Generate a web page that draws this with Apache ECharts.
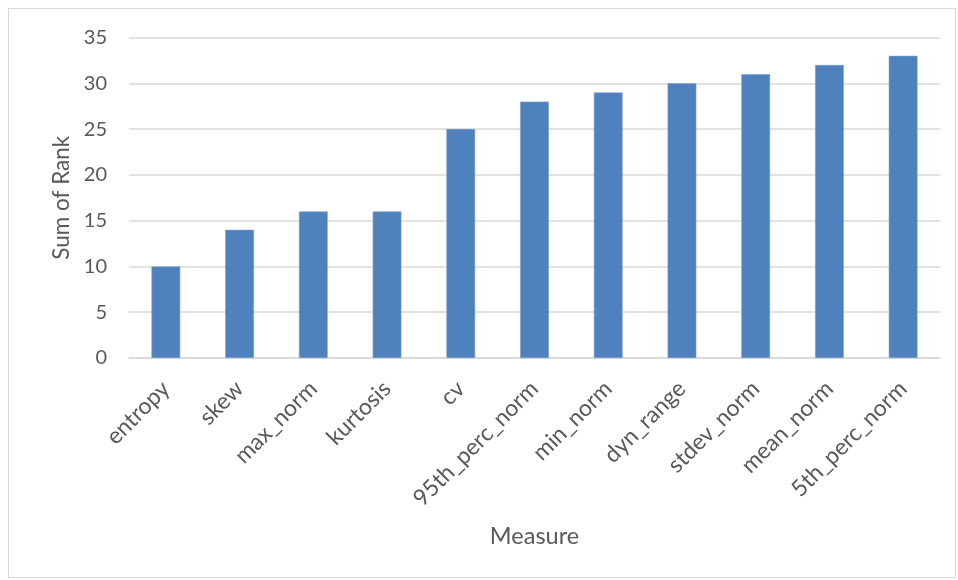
<!DOCTYPE html>
<html>
<head>
<meta charset="utf-8">
<script src="https://cdn.jsdelivr.net/npm/echarts@6/dist/echarts.min.js"></script>
<style>
  html, body { margin: 0; padding: 0; background: #fff; }
  #frame { position: absolute; left: 8px; top: 8px; width: 948px; height: 570px; border: 1px solid #d9d9d9; box-sizing: border-box; }
  #chart { position: absolute; left: 0; top: 0; width: 958px; height: 580px; }
</style>
</head>
<body>
<div id="frame"></div>
<div id="chart"></div>
<script>
// Measures and their summed ranks
const measures = ['entropy', 'skew', 'max_norm', 'kurtosis', 'cv', '95th_perc_norm',
  'min_norm', 'dyn_range', 'stdev_norm', 'mean_norm', '5th_perc_norm'];
const sumOfRank = [10, 14, 16, 16, 25, 28, 29, 30, 31, 32, 33];
const yTicks = { min: 0, max: 35, interval: 5 };

const textColor = '#595959';
const font = 'Lato, "Liberation Sans", sans-serif';

const chart = echarts.init(document.getElementById('chart'), null, { renderer: 'canvas' });
chart.setOption({
  animation: false,
  textStyle: { fontFamily: font },
  grid: { left: 129, right: 18, top: 37.5, bottom: 222 },
  xAxis: {
    type: 'category',
    data: measures,
    name: 'Measure',
    nameLocation: 'middle',
    nameGap: 166,
    nameTextStyle: { color: textColor, fontSize: 23.5, fontFamily: font },
    axisLine: { show: true, lineStyle: { color: '#d9d9d9', width: 1.5 } },
    axisTick: { show: false },
    axisLabel: { rotate: 45, color: textColor, fontSize: 23, fontFamily: font, margin: 27, interval: 0 }
  },
  yAxis: {
    type: 'value',
    min: yTicks.min,
    max: yTicks.max,
    interval: yTicks.interval,
    name: 'Sum of Rank',
    nameLocation: 'middle',
    nameGap: 56,
    nameTextStyle: { color: textColor, fontSize: 22.5, fontFamily: font },
    axisLine: { show: false },
    axisTick: { show: false },
    axisLabel: { color: textColor, fontSize: 20, fontFamily: font, margin: 22 },
    splitLine: { lineStyle: { color: '#d9d9d9', width: 1.5 } }
  },
  series: [{
    type: 'bar',
    data: sumOfRank,
    barWidth: '39%',
    itemStyle: { color: '#4f81bd', borderColor: '#7da0cc', borderWidth: 0.6 }
  }]
});
</script>
</body>
</html>
